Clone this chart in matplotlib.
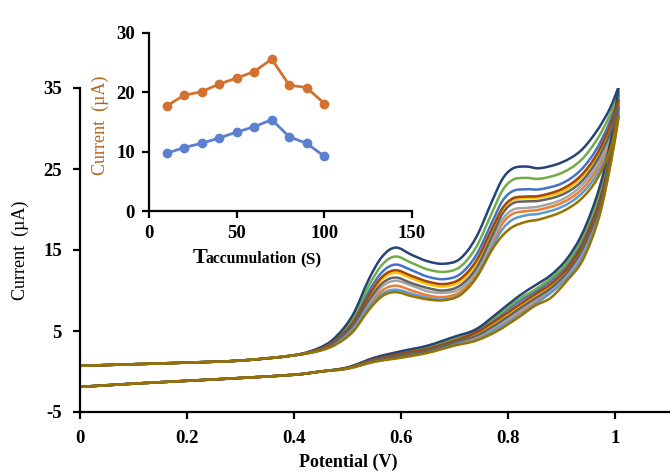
import matplotlib
matplotlib.use('Agg')
import matplotlib.pyplot as plt
from matplotlib.path import Path
from matplotlib.patches import PathPatch

plt.rcParams['font.family'] = 'Liberation Serif'
plt.rcParams['axes.unicode_minus'] = False

# inset: peak current vs accumulation time
t_acc = [10, 20, 30, 40, 50, 60, 70, 80, 90, 100]
peak_b = [17.7, 19.5, 20.1, 21.4, 22.4, 23.5, 25.6, 21.2, 20.8, 18.1]
peak_a = [9.7, 10.7, 11.4, 12.3, 13.3, 14.2, 15.4, 12.5, 11.4, 9.2]

# voltammograms (Excel series order)
colors = ['#4472C4', '#ED7D31', '#A5A5A5', '#FFC000', '#5B9BD5',
          '#70AD47', '#264478', '#9E480E', '#636363', '#997300']

# shared start of the forward scan
v_base_up = [0.0, 0.1, 0.2, 0.3, 0.4]
i_base_up = [0.7, 0.9, 1.1, 1.35, 2.0]

v_up = [0.45, 0.48, 0.51, 0.54, 0.565, 0.59, 0.62, 0.65, 0.68, 0.71, 0.74,
        0.77, 0.79, 0.81, 0.835, 0.86, 0.9, 0.935, 0.965, 0.99, 1.007]
i_up = [
    [2.9, 4.1, 6.3, 9.9, 12.3, 13.2, 12.5, 11.7, 11.4, 12.0, 14.3, 18.4, 21.1, 22.3, 22.5, 22.5, 23.2, 24.8, 27.4, 30.8, 34.2],
    [2.65, 3.65, 5.3, 8.2, 10.0, 10.6, 10.0, 9.4, 9.2, 9.8, 11.9, 15.7, 18.3, 19.5, 19.8, 20.0, 20.8, 22.3, 24.8, 28.3, 32.2],
    [2.7, 3.75, 5.5, 8.5, 10.5, 11.2, 10.6, 9.9, 9.7, 10.2, 12.3, 16.1, 18.8, 20.0, 20.2, 20.4, 21.2, 22.8, 25.3, 28.8, 32.5],
    [2.8, 3.95, 5.9, 9.2, 11.4, 12.2, 11.5, 10.8, 10.5, 11.1, 13.3, 17.3, 20.0, 21.2, 21.4, 21.5, 22.2, 23.8, 26.4, 29.9, 33.2],
    [2.6, 3.5, 5.1, 7.9, 9.6, 10.1, 9.6, 9.1, 8.9, 9.5, 11.6, 15.3, 17.6, 18.8, 19.3, 19.5, 20.3, 21.8, 24.2, 27.7, 31.8],
    [2.95, 4.2, 6.6, 10.6, 13.2, 14.2, 13.4, 12.6, 12.3, 12.9, 15.3, 19.6, 22.4, 23.7, 23.9, 23.8, 24.5, 26.0, 28.5, 31.6, 34.6],
    [3.0, 4.4, 7.0, 11.4, 14.2, 15.3, 14.4, 13.6, 13.3, 13.9, 16.5, 21.0, 23.8, 25.1, 25.3, 25.1, 25.8, 27.2, 29.6, 32.4, 35.2],
    [2.85, 4.0, 6.0, 9.4, 11.7, 12.5, 11.8, 11.1, 10.8, 11.4, 13.6, 17.6, 20.2, 21.4, 21.6, 21.7, 22.5, 24.1, 26.7, 30.2, 33.6],
    [2.75, 3.85, 5.7, 8.8, 10.9, 11.6, 10.9, 10.3, 10.0, 10.6, 12.7, 16.7, 19.5, 20.8, 21.0, 21.1, 21.8, 23.3, 25.9, 29.3, 32.8],
    [2.6, 3.4, 4.9, 7.6, 9.3, 9.8, 9.3, 8.9, 8.8, 9.4, 11.5, 15.0, 16.8, 17.9, 18.5, 18.8, 19.7, 21.2, 23.6, 27.2, 31.5],
]

v_down = [0.993, 0.97, 0.94, 0.91, 0.88, 0.85, 0.82, 0.78, 0.74, 0.70, 0.65, 0.60, 0.55, 0.50]
i_down = [
    [27.6, 21.3, 16.3, 13.1, 11.2, 9.8, 8.6, 6.7, 5.0, 4.0, 2.9, 2.3, 1.5, 0.45],
    [26.4, 19.5, 14.5, 11.7, 9.9, 8.5, 7.1, 5.5, 4.1, 3.4, 2.4, 1.9, 1.3, 0.4],
    [26.6, 19.8, 14.8, 11.9, 10.1, 8.8, 7.4, 5.7, 4.3, 3.5, 2.5, 2.0, 1.3, 0.4],
    [27.0, 20.5, 15.5, 12.5, 10.6, 9.3, 8.0, 6.2, 4.6, 3.7, 2.7, 2.1, 1.4, 0.4],
    [26.2, 19.2, 14.2, 11.5, 9.7, 8.3, 6.9, 5.3, 3.9, 3.3, 2.4, 1.8, 1.2, 0.35],
    [28.0, 21.8, 16.7, 13.4, 11.5, 10.1, 8.9, 6.9, 5.2, 4.1, 3.0, 2.4, 1.6, 0.5],
    [28.8, 22.5, 17.2, 13.9, 11.9, 10.6, 9.3, 7.2, 5.2, 4.3, 3.2, 2.5, 1.7, 0.5],
    [27.3, 20.8, 15.8, 12.7, 10.8, 9.5, 8.2, 6.4, 4.8, 3.8, 2.8, 2.2, 1.5, 0.45],
    [26.8, 20.1, 15.2, 12.2, 10.3, 9.0, 7.7, 5.9, 4.4, 3.6, 2.6, 2.0, 1.4, 0.4],
    [26.0, 19.0, 13.8, 11.2, 9.1, 8.1, 6.7, 5.0, 3.8, 3.2, 2.3, 1.7, 1.2, 0.35],
]

# shared end of the reverse scan
v_base_down = [0.45, 0.4, 0.3, 0.2, 0.1, 0.0]
i_base_down = [0.0, -0.4, -0.8, -1.15, -1.5, -1.9]


def smooth_path(xs, ys):
    # Excel-like smoothed line: cubic bezier through the points
    pts = list(zip(xs, ys))
    n = len(pts)
    verts = [pts[0]]
    codes = [Path.MOVETO]
    for i in range(n - 1):
        p0 = pts[max(i - 1, 0)]
        p1 = pts[i]
        p2 = pts[i + 1]
        p3 = pts[min(i + 2, n - 1)]
        c1 = (p1[0] + (p2[0] - p0[0]) / 6, p1[1] + (p2[1] - p0[1]) / 6)
        c2 = (p2[0] - (p3[0] - p1[0]) / 6, p2[1] - (p3[1] - p1[1]) / 6)
        verts += [c1, c2, p2]
        codes += [Path.CURVE4] * 3
    return Path(verts, codes)


W, H = 670, 474
fig = plt.figure(figsize=(6.7, 4.74), dpi=100)

# main axes, right part runs past the crop
ax = fig.add_axes([80 / W, 1 - 412 / H, 1.2 * 535 / W, 324 / H])
for k in range(len(colors)):
    xf = v_base_up + v_up
    yf = i_base_up + i_up[k]
    xr = [v_up[-1]] + v_down + v_base_down
    yr = [i_up[k][-1]] + i_down[k] + i_base_down
    for xs, ys in [(xf, yf), (xr, yr)]:
        ax.add_patch(PathPatch(smooth_path(xs, ys), fill=False,
                               edgecolor=colors[k], lw=1.8))

ax.set_xlim(0, 1.2)
ax.set_ylim(-5, 35)
ax.set_xticks([0, 0.2, 0.4, 0.6, 0.8, 1.0])
ax.set_xticklabels(['0', '0.2', '0.4', '0.6', '0.8', '1'])
ax.set_yticks([-5, 5, 15, 25, 35])
for s in ['top', 'right']:
    ax.spines[s].set_visible(False)
for s in ['left', 'bottom']:
    ax.spines[s].set_linewidth(1.6)
ax.tick_params(width=1.6, length=5, labelsize=13.5)
ax.tick_params(axis='x', pad=8)
ax.tick_params(axis='y', pad=8)
for lbl in ax.get_xticklabels() + ax.get_yticklabels():
    lbl.set_fontweight('bold')

fig.text(348 / W, 1 - 462 / H, 'Potential (V)', ha='center', va='center',
         fontsize=13, fontweight='bold')
fig.text(20 / W, 1 - 250 / H, 'Current  (\u00b5A)', ha='center', va='center',
         rotation=90, fontsize=13)

# inset
ax2 = fig.add_axes([149 / W, 1 - 211 / H, 263 / W, 178 / H])
ax2.patch.set_alpha(0)
ax2.plot(t_acc, peak_b, color='#D2722E', lw=2, marker='o', ms=6)
ax2.plot(t_acc, peak_a, color='#5B80D0', lw=2, marker='o', ms=6)
ax2.set_xlim(0, 150)
ax2.set_ylim(0, 30)
ax2.set_xticks([0, 50, 100, 150])
ax2.set_yticks([0, 10, 20, 30])
for s in ['top', 'right']:
    ax2.spines[s].set_visible(False)
for s in ['left', 'bottom']:
    ax2.spines[s].set_linewidth(1.6)
ax2.tick_params(width=1.6, length=5, labelsize=13.5, pad=5)
for lbl in ax2.get_xticklabels() + ax2.get_yticklabels():
    lbl.set_fontweight('bold')

fig.text(100 / W, 1 - 125 / H, 'Current  (\u00b5A)', ha='center', va='center',
         rotation=90, fontsize=13, color='#B5651D')
fig.text(193 / W, 1 - 263 / H, 'T', ha='left', va='baseline',
         fontsize=16, fontweight='bold')
fig.text(206 / W, 1 - 263 / H, 'accumulation', ha='left', va='baseline',
         fontsize=11.3, fontweight='bold')
fig.text(300 / W, 1 - 264 / H, '(S)', ha='left', va='baseline',
         fontsize=12.5, fontweight='bold')

fig.savefig('out.png', dpi=100)
